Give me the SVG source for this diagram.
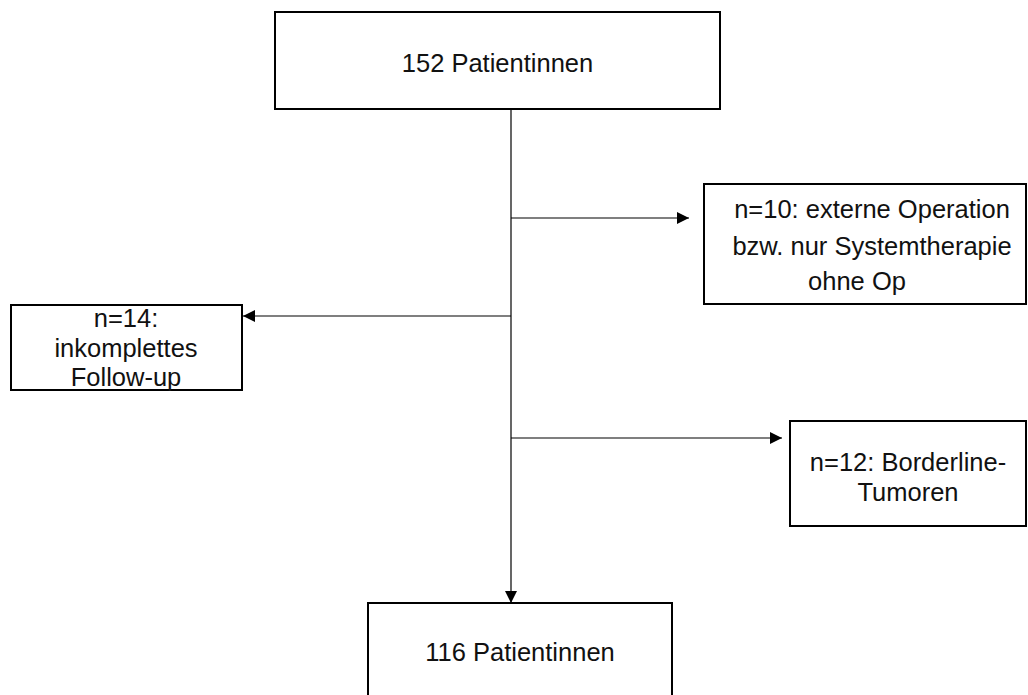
<svg xmlns="http://www.w3.org/2000/svg" width="1028" height="695" viewBox="0 0 1028 695">
<defs>
<style>
.box{fill:#fff;stroke:#000;stroke-width:2}
.t{font-family:"Liberation Sans",Arial,sans-serif;font-size:25.5px;fill:#111;text-anchor:middle}
.c{stroke:#000;stroke-width:1.2;fill:none}
</style>
<marker id="ah" viewBox="0 0 10 10" refX="10" refY="5" markerWidth="12" markerHeight="12" markerUnits="userSpaceOnUse" orient="auto">
<path d="M0,0 L10,5 L0,10 Z" fill="#000"/>
</marker>
</defs>
<rect width="1028" height="695" fill="#fff"/>
<g id="connectors">
<line class="c" x1="511" y1="109" x2="511" y2="603" marker-end="url(#ah)"/>
<line class="c" x1="511" y1="218" x2="689" y2="218" marker-end="url(#ah)"/>
<line class="c" x1="511" y1="316" x2="243" y2="316" marker-end="url(#ah)"/>
<line class="c" x1="511" y1="438" x2="782" y2="438" marker-end="url(#ah)"/>
</g>
<g id="n152">
<rect class="box" x="275" y="12" width="445" height="97"/>
<text class="t" x="497.5" y="72">152 Patientinnen</text>
</g>
<g id="n10">
<rect class="box" x="704" y="184" width="322" height="120"/>
<text class="t" x="872" y="218">n=10: externe Operation</text>
<text class="t" x="872" y="255">bzw. nur Systemtherapie</text>
<text class="t" x="857" y="290">ohne Op</text>
</g>
<g id="n14">
<rect class="box" x="11" y="305" width="231" height="85"/>
<text class="t" x="126" y="327">n=14:</text>
<text class="t" x="126" y="357">inkomplettes</text>
<text class="t" x="126" y="386">Follow-up</text>
</g>
<g id="n12">
<rect class="box" x="790" y="421" width="236" height="105"/>
<text class="t" x="908" y="471">n=12: Borderline-</text>
<text class="t" x="908" y="501">Tumoren</text>
</g>
<g id="n116">
<path class="box" d="M368,696 L368,603 L672,603 L672,696"/>
<text class="t" x="520" y="661">116 Patientinnen</text>
</g>
</svg>
